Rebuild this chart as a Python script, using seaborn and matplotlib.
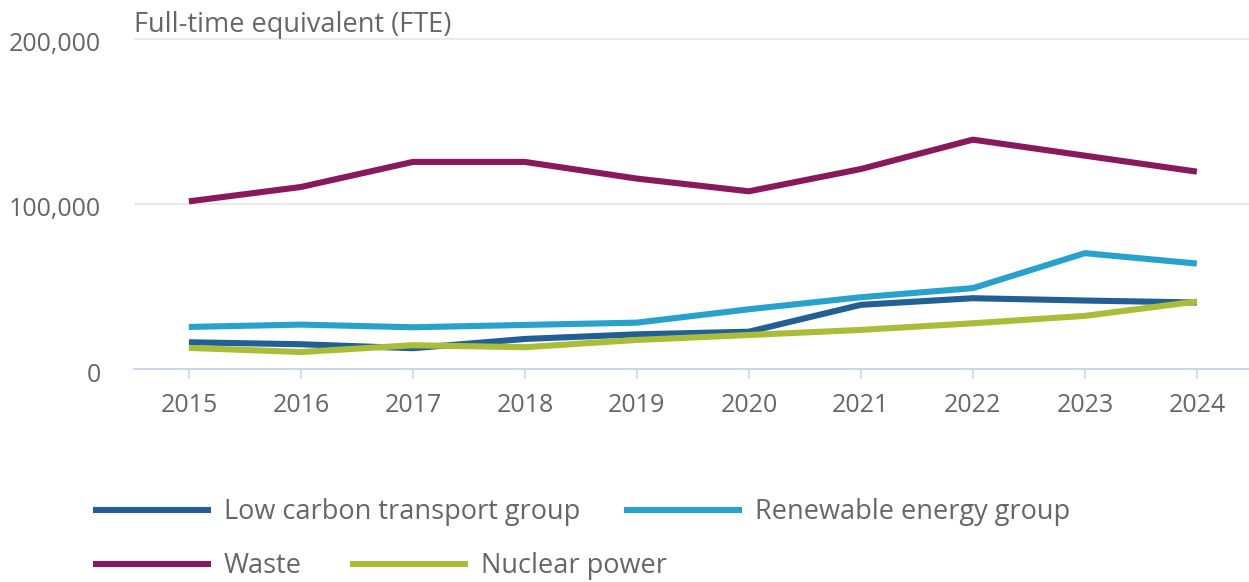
import matplotlib
matplotlib.use("Agg")
import matplotlib.pyplot as plt
import matplotlib.transforms as mtransforms
import seaborn as sns
import pandas as pd
from matplotlib.lines import Line2D

years = ["2015", "2016", "2017", "2018", "2019", "2020", "2021", "2022", "2023", "2024"]
low_carbon = [16200, 15000, 12600, 18200, 21000, 22600, 38900, 42900, 41500, 40300]
renewable = [25500, 26900, 25300, 26700, 28100, 36200, 43500, 49000, 70200, 63900]
waste = [101600, 110300, 125500, 125500, 115400, 107700, 121200, 139000, 129300, 119600]
nuclear = [12800, 10300, 14400, 13200, 17600, 20600, 23700, 27700, 32200, 40900]

series_names = ["Low carbon transport group", "Renewable energy group", "Waste", "Nuclear power"]
series_values = [low_carbon, renewable, waste, nuclear]
colors = ["#215f94", "#28a2cc", "#881a5b", "#a9bd38"]
title_text = "Full-time equivalent (FTE)"
y_ticks = [0, 100000, 200000]

rows = []
for name, vals in zip(series_names, series_values):
    for i, (yr, v) in enumerate(zip(years, vals)):
        rows.append({"idx": i, "year": yr, "series": name, "value": v})
df = pd.DataFrame(rows)

sns.set_theme(style="white")
plt.rcParams["font.family"] = ["Open Sans", "DejaVu Sans"]
text_color = "#666666"
axis_color = "#ccd6eb"

W, H = 1249, 582
fig = plt.figure(figsize=(W / 100, H / 100), dpi=100)

ymax = 202000
px_per = (369 - 39) / 200000
top_px = 369 - ymax * px_per
left_px, right_px = 134, 1249
ax = fig.add_axes([left_px / W, 1 - 369 / H, (right_px - left_px) / W, (369 - top_px) / H])

sns.lineplot(data=df, x="idx", y="value", hue="series", hue_order=series_names,
             palette=colors, linewidth=4.4, ax=ax, legend=False, sort=False)
for ln in ax.get_lines():
    ln.set_solid_capstyle("butt")
    ln.set_solid_joinstyle("round")

ax.set_xlim(-0.49, -0.49 + (right_px - left_px) / 112)
ax.set_ylim(0, ymax)
ax.set_xticks(range(len(years)))
ax.set_xticklabels(years)
ax.set_yticks(y_ticks)
ax.set_yticklabels([f"{v:,}" for v in y_ticks])
ax.set_xlabel("")
ax.set_ylabel("")

for s in ["top", "right", "left"]:
    ax.spines[s].set_visible(False)
ax.spines["bottom"].set_color(axis_color)
ax.spines["bottom"].set_linewidth(1.4)

ax.yaxis.grid(True, color="#e6e6e6", linewidth=1.2)
ax.xaxis.grid(False)
ax.set_axisbelow(True)

ax.tick_params(axis="x", which="major", direction="out", length=7.5, width=1.2,
               color=axis_color, labelsize=18, labelcolor=text_color, pad=10, bottom=True)
ax.tick_params(axis="y", which="major", length=0, labelsize=18, labelcolor=text_color, pad=24)

offset = mtransforms.ScaledTranslation(0, -3 / 100, fig.dpi_scale_trans)
for lbl in ax.get_yticklabels():
    lbl.set_transform(lbl.get_transform() + offset)

fig.text(left_px / W, 1 - 32 / H, title_text, fontsize=19.5, color=text_color,
         ha="left", va="baseline")

fs = 19.5
fpx = fs * 100 / 72
handles = [Line2D([0], [0], color=c, linewidth=4.4, solid_capstyle="butt") for c in colors]
leg_kw = dict(frameon=False, fontsize=fs, labelcolor=text_color, handlelength=118 / fpx,
              handletextpad=13 / fpx, borderpad=0, borderaxespad=0,
              loc="center left", ncol=2)
leg1 = fig.legend(handles[:2], series_names[:2], bbox_to_anchor=(93 / W, 1 - 512 / H),
                  columnspacing=44 / fpx, **leg_kw)
leg2 = fig.legend(handles[2:], series_names[2:], bbox_to_anchor=(93 / W, 1 - 566 / H),
                  columnspacing=48 / fpx, **leg_kw)

fig.savefig("out.png", dpi=100)
